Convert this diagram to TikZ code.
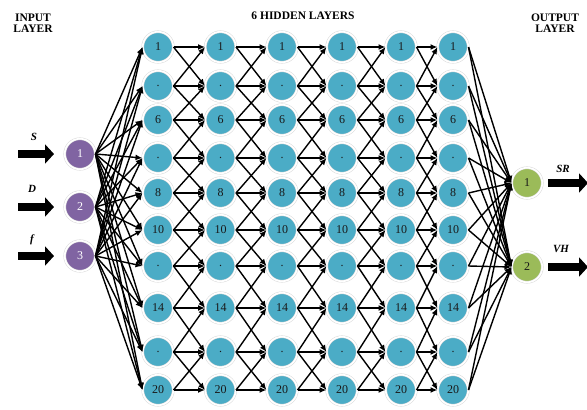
\documentclass[tikz,border=0pt]{standalone}
\usepackage{fontspec}
\setmainfont{Liberation Serif}
\usetikzlibrary{arrows.meta}
\definecolor{hidc}{RGB}{75,172,198}
\definecolor{inc}{RGB}{128,100,162}
\definecolor{outc}{RGB}{155,187,89}
\begin{document}
\begin{tikzpicture}[x=1pt,y=-1pt,
  neuron/.style={circle, minimum size=30.5pt, inner sep=0pt, draw=black!15, line width=0.5pt,
    double=white, double distance=1.6pt, font=\fontsize{12}{13}\selectfont, text=black!90},
  hidden/.style={neuron, fill=hidc},
  innode/.style={neuron, fill=inc, text=white},
  outnode/.style={neuron, fill=outc},
  conn/.style={line width=1.4pt, -{Latex[length=7pt,width=6pt]}},
  bigarrow/.style={line width=8.5pt, -{Triangle[length=9pt,width=19pt]}},
  header/.style={font=\bfseries\fontsize{11.5}{13}\selectfont, align=center},
  varlabel/.style={font=\bfseries\itshape\fontsize{11}{12}\selectfont}]
\useasboundingbox (0,0) rectangle (587,410);

% headers
\node[header] (hin) at (33,23) {INPUT\\[-2pt]LAYER};
\node[header] (hhid) at (303,16) {6 HIDDEN LAYERS};
\node[header] (hout) at (555,23) {OUTPUT\\[-2pt]LAYER};

% hidden layers
\foreach \x [count=\k] in {158,220.5,282,342,401,453} {
  \foreach \y/\lab [count=\i] in {47/1,86/.,120/6,158/.,193/8,230/10,266/.,308/14,352/.,390/20} {
    \node[hidden] (h\k-\i) at (\x,\y) {\lab};
  }
}

% input nodes
\node[innode] (in1) at (80,154) {1};
\node[innode] (in2) at (80,207) {2};
\node[innode] (in3) at (80,256) {3};

% output nodes
\node[outnode] (out1) at (527,183) {1};
\node[outnode] (out2) at (527,267) {2};

% input arrows and labels
\coordinate (a1s) at (18,154); \coordinate (a1e) at (54,154);
\coordinate (a2s) at (18,207); \coordinate (a2e) at (54,207);
\coordinate (a3s) at (18,256); \coordinate (a3e) at (54,256);
\draw[bigarrow] (a1s) -- (a1e);
\draw[bigarrow] (a2s) -- (a2e);
\draw[bigarrow] (a3s) -- (a3e);
\node[varlabel] (ls) at (34,137) {S};
\node[varlabel] (ld) at (32,189) {D};
\node[varlabel] (lf) at (32,240) {f};

% output arrows and labels
\coordinate (o1e) at (588,183);
\coordinate (o2e) at (588,267);
\draw[bigarrow] (out1) ++(21,0) coordinate (o1s) -- (o1e);
\draw[bigarrow] (out2) ++(21,0) coordinate (o2s) -- (o2e);
\node[varlabel] (lsr) at (563,169) {SR};
\node[varlabel] (lvh) at (561,249) {VH};

% input -> first hidden layer
\foreach \n in {1,2,3} {
  \foreach \i in {1,...,10} {
    \draw[conn] (in\n.east) -- (h1-\i.west);
  }
}

% hidden -> hidden
\foreach \k in {1,...,5} {
  \pgfmathtruncatemacro{\kn}{\k+1}
  \foreach \i in {1,...,10} {
    \foreach \d in {-1,0,1} {
      \pgfmathtruncatemacro{\j}{\i+\d}
      \ifnum\j>0 \ifnum\j<11
        \draw[conn] (h\k-\i.east) -- (h\kn-\j.west);
      \fi\fi
    }
  }
}

% last hidden -> outputs
\foreach \i in {1,...,10} {
  \draw[conn] (h6-\i.east) -- (out1.west);
  \draw[conn] (h6-\i.east) -- (out2.west);
}
\end{tikzpicture}
\end{document}
